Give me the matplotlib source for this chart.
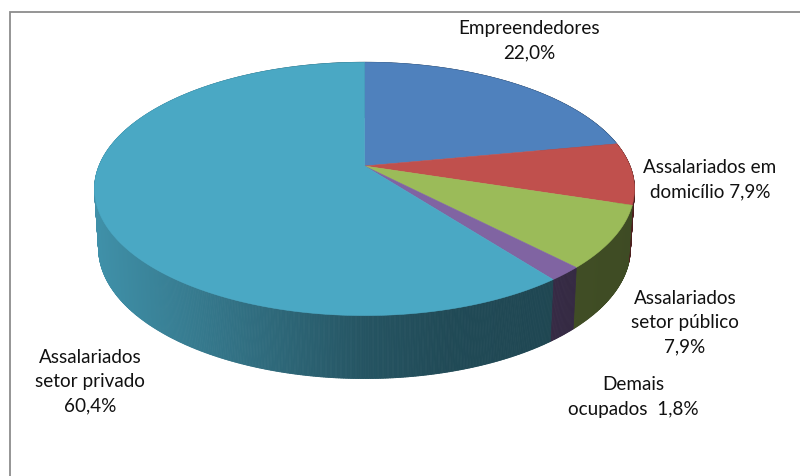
import numpy as np
import matplotlib
matplotlib.use("Agg")
import matplotlib.pyplot as plt
from matplotlib.collections import PolyCollection

labels = ["Empreendedores\n22,0%", "Assalariados em\ndomicílio 7,9%",
          "Assalariados\nsetor público\n7,9%", "Demais\nocupados  1,8%",
          "Assalariados\nsetor privado\n60,4%"]
values = [22.0, 7.9, 7.9, 1.8, 60.4]
colors = ["#4F81BD", "#C0504D", "#9BBB59", "#8064A2", "#4AA8C4"]
label_xy = [(529, 41), (710, 180), (685, 323), (633, 397), (90, 382)]

CX, CY = 364.5, 167.0
K, A, B = 0.181, 122.5, 265.5
DEPTH = 58.5
SHADE_X = [95, 200, 365, 450, 550, 640]
SHADE_V = [0.86, 0.72, 0.50, 0.44, 0.42, 0.40]


def project(theta):
    c, s = np.sin(theta), np.cos(theta)
    w = 1 + K * s
    return B * c / w, -A * s / w


def top_pts(theta):
    x, y = project(theta)
    return CX + x, CY + y


def bottom_pts(theta):
    x, y = project(theta)
    return CX + 0.985 * x, CY + DEPTH + 1.03 * y


fig = plt.figure(figsize=(8, 4.77), dpi=100)
ax = fig.add_axes([0, 0, 1, 1])
ax.set_xlim(0, 800)
ax.set_ylim(477, 0)
ax.axis("off")

ax.plot([9.5, 9.5, 800], [477, 12.5, 12.5], color="#8c8c8c", lw=1.3,
        solid_joinstyle="miter", zorder=1)

edges = np.cumsum([0] + values) / sum(values) * 2 * np.pi

# walls
for i, col in enumerate(colors):
    t = np.linspace(edges[i], edges[i + 1], max(4, int(values[i] * 12)))
    tx, ty = top_pts(t)
    bx, by = bottom_pts(t)
    quads, fc = [], []
    rgb = np.array(matplotlib.colors.to_rgb(col))
    for j in range(len(t) - 1):
        quads.append([(tx[j], ty[j]), (tx[j + 1], ty[j + 1]),
                      (bx[j + 1], by[j + 1]), (bx[j], by[j])])
        f = np.interp((tx[j] + tx[j + 1]) / 2, SHADE_X, SHADE_V)
        fc.append(rgb * f)
    ax.add_collection(PolyCollection(quads, facecolors=fc, edgecolors=fc,
                                     linewidths=0.6, zorder=2))

# top faces
for i, col in enumerate(colors):
    t = np.linspace(edges[i], edges[i + 1], 200)
    x, y = top_pts(t)
    ax.fill(np.r_[CX, x], np.r_[CY, y], color=col, lw=0.4, zorder=3)

for text, (x, y) in zip(labels, label_xy):
    ax.text(x, y, text, ha="center", va="center", family="Lato", fontsize=13.6,
            color="#111111", linespacing=1.52, zorder=4)

fig.savefig("out.png", dpi=100)
